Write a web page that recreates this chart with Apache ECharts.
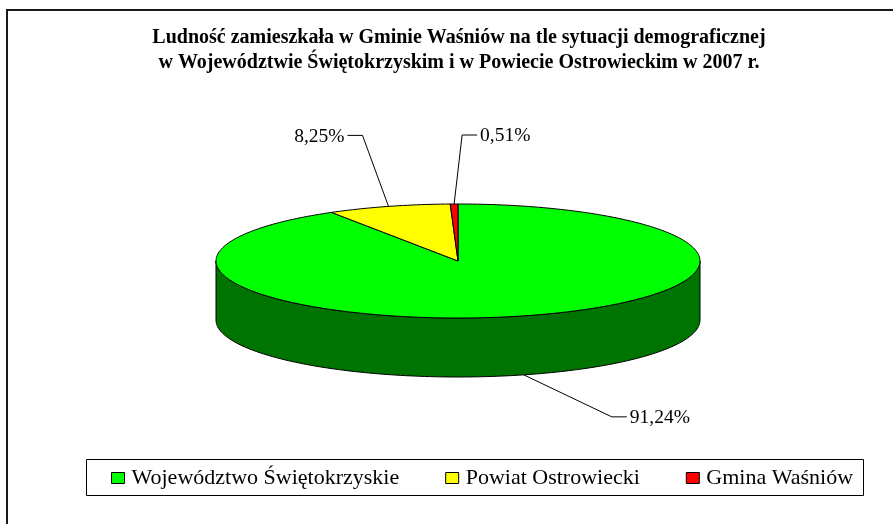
<!DOCTYPE html>
<html>
<head>
<meta charset="utf-8">
<script src="https://cdn.jsdelivr.net/npm/echarts@6/dist/echarts.min.js"></script>
<style>
  html, body { margin: 0; padding: 0; background: #fff; }
  #chart { width: 893px; height: 524px; }
</style>
</head>
<body>
<div id="chart"></div>
<script>
var categories = ['Województwo Świętokrzyskie', 'Powiat Ostrowiecki', 'Gmina Waśniów'];
var shares = [91.24, 8.25, 0.51];
var topColors = ['#00ff00', '#ffff00', '#ff0000'];
var sideColors = ['#007400', '#7f7f00', '#7f0000'];

// ellipse of the pie top and the wall height
var pie = { cx: 458, cy: 261, rx: 242, ry: 57, depth: 59 };
// where each leader line bends, relative to its anchor, and which side the text sits
var labelPlace = [
	{ dx: 88, dy: 42, side: 'right' },
	{ dx: -26, dy: -71, side: 'left' },
	{ dx: 8, dy: -69, side: 'right' }
];
var serif = '"Liberation Serif", "Times New Roman", serif';

var total = shares.reduce(function (a, b) { return a + b; }, 0);

function pt(phi, dy) {
	return [pie.cx + pie.rx * Math.sin(phi), pie.cy - pie.ry * Math.cos(phi) + (dy || 0)];
}

function arc(a, b, dy) {
	var pts = [];
	var n = Math.max(2, Math.ceil((b - a) / 0.02));
	for (var k = 0; k <= n; k++) {
		pts.push(pt(a + (b - a) * k / n, dy));
	}
	return pts;
}

function fmt(v) {
	return v.toFixed(2).replace('.', ',') + '%';
}

function renderSlice(params, api) {
	var i = params.seriesIndex;
	var value = api.value(0);
	var before = 0;
	for (var j = 0; j < i; j++) before += shares[j];
	var start = before / total * Math.PI * 2;
	var end = start + value / total * Math.PI * 2;
	var children = [];

	// front wall
	var a = Math.max(start, Math.PI / 2), b = Math.min(end, Math.PI * 1.5);
	if (b > a) {
		var wall = arc(a, b, 0).concat(arc(a, b, pie.depth).reverse());
		children.push({
			type: 'polygon',
			shape: { points: wall },
			style: { fill: sideColors[i], stroke: '#000', lineWidth: 1 }
		});
	}

	// top face
	var top = [[pie.cx, pie.cy]].concat(arc(start, end, 0));
	children.push({
		type: 'polygon',
		shape: { points: top },
		style: { fill: topColors[i], stroke: '#000', lineWidth: 1 }
	});

	// label with leader line
	var mid = (start + end) / 2;
	var front = Math.cos(mid) < 0;
	var anchor = pt(mid, front ? pie.depth : 0);
	var lp = labelPlace[i];
	var bend = [anchor[0] + lp.dx, anchor[1] + lp.dy];
	var dir = lp.side === 'right' ? 1 : -1;
	var tail = [bend[0] + dir * 15, bend[1]];
	children.push({
		type: 'polyline',
		shape: { points: [anchor, bend, tail] },
		style: { stroke: '#000', lineWidth: 1, fill: null }
	});
	children.push({
		type: 'text',
		style: {
			text: fmt(value),
			x: tail[0] + dir * 3,
			y: tail[1] + 1,
			align: lp.side === 'right' ? 'left' : 'right',
			verticalAlign: 'middle',
			fontFamily: serif,
			fontSize: 19.5,
			fill: '#000'
		}
	});

	return { type: 'group', children: children };
}

var myChart = echarts.init(document.getElementById('chart'));

var series = categories.map(function (name, i) {
	return {
		name: name,
		type: 'custom',
		coordinateSystem: 'none',
		silent: true,
		itemStyle: { color: topColors[i] },
		renderItem: renderSlice,
		data: [[shares[i]]]
	};
});

var option = {
	animation: false,
	backgroundColor: '#fff',
	graphic: [
		{
			type: 'rect',
			shape: { x: 7, y: 10, width: 900, height: 600 },
			style: { fill: null, stroke: '#1a1a1a', lineWidth: 2 },
			silent: true
		},
		{
			type: 'rect',
			shape: { x: 86.5, y: 459.5, width: 777, height: 36 },
			style: { fill: null, stroke: '#000', lineWidth: 1 },
			silent: true
		},
		{
			type: 'text',
			style: {
				text: 'Ludność zamieszkała w Gminie Waśniów na tle sytuacji demograficznej\nw Województwie Świętokrzyskim i w Powiecie Ostrowieckim w 2007 r.',
				x: 459,
				y: 50,
				align: 'center',
				verticalAlign: 'middle',
				fontFamily: serif,
				fontWeight: 'bold',
				fontSize: 20,
				lineHeight: 25,
				fill: '#000'
			},
			silent: true
		}
	],
	legend: {
		left: 111,
		top: 467,
		padding: 0,
		itemGap: 46,
		itemWidth: 13,
		itemHeight: 11,
		icon: 'rect',
		itemStyle: { borderColor: '#000', borderWidth: 1 },
		textStyle: {
			fontFamily: serif,
			fontSize: 22,
			color: '#000',
			padding: [0, 0, 0, 2]
		},
		selectedMode: false,
		data: categories
	},
	series: series
};

myChart.setOption(option);
window.addEventListener('resize', myChart.resize);
</script>
</body>
</html>
